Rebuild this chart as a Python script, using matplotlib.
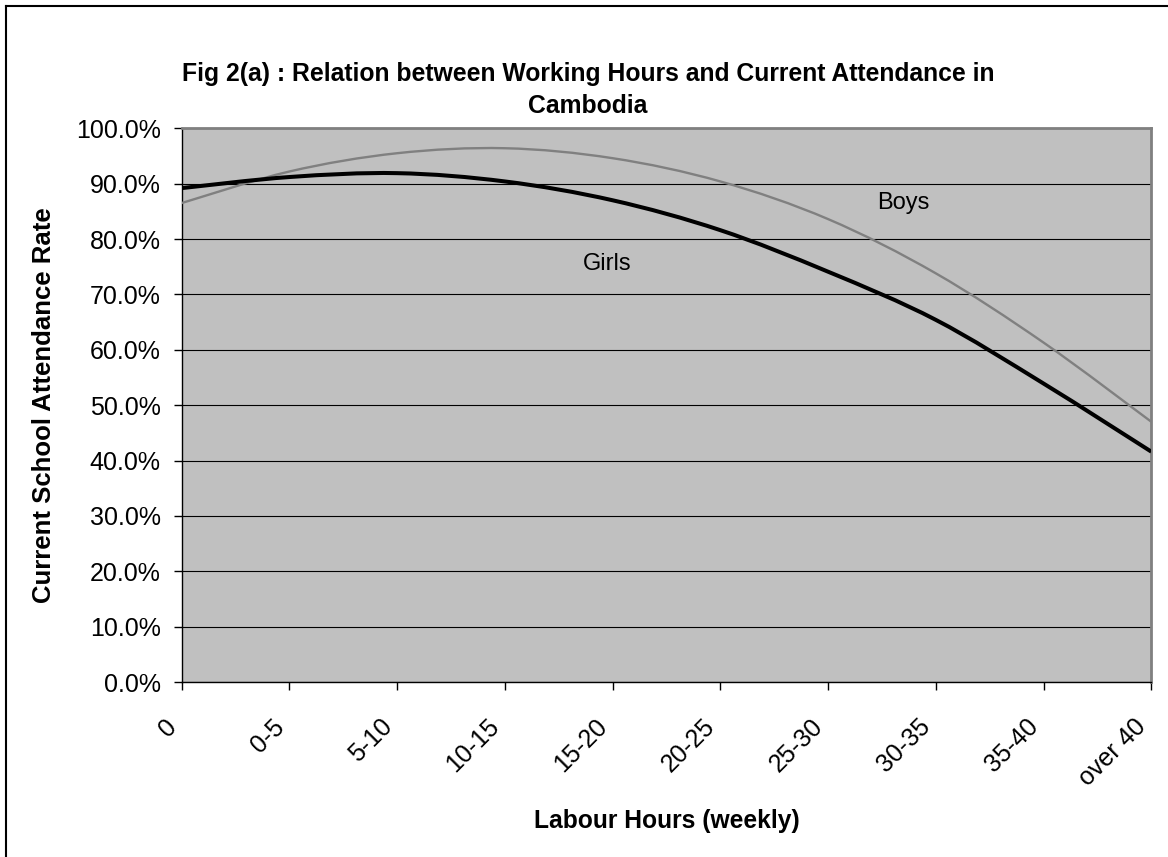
import numpy as np
import matplotlib
matplotlib.use("Agg")
import matplotlib.pyplot as plt
from matplotlib.path import Path
from matplotlib.patches import PathPatch
from matplotlib.transforms import ScaledTranslation
from matplotlib.ticker import PercentFormatter
from matplotlib.lines import Line2D

plt.rcParams['font.family'] = ['Liberation Sans', 'DejaVu Sans']

#%% data (attendance rate, %)
hours = ['0', '0-5', '5-10', '10-15', '15-20', '20-25', '25-30',
         '30-35', '35-40', 'over 40']
boys = [86.5, 92.2, 95.5, 96.4, 94.6, 90.4, 83.6, 73.8, 61.3, 47.0]
girls = [89.2, 91.2, 91.9, 90.4, 87.0, 81.6, 74.1, 65.4, 53.9, 41.6]

#%% smooth curve through the points (catmull-rom -> cubic bezier)
def smoothPath(xs, ys):
    pts = np.column_stack([xs, ys]).astype(float)
    n = len(pts)
    verts = [pts[0]]
    codes = [Path.MOVETO]
    for i in range(n - 1):
        p0 = pts[max(i - 1, 0)]
        p1 = pts[i]
        p2 = pts[i + 1]
        p3 = pts[min(i + 2, n - 1)]
        c1 = p1 + (p2 - p0) / 6.0
        c2 = p2 - (p3 - p1) / 6.0
        verts += [c1, c2, p2]
        codes += [Path.CURVE4] * 3
    return Path(verts, codes)

#%%
fig = plt.figure(figsize=(11.68, 8.57), dpi=100)
ax = fig.add_axes([181.7/1168, 1 - 682/857, (1151.3 - 181.7)/1168,
                   (682 - 128.3)/857])
ax.set_facecolor('#C0C0C0')

x = np.arange(len(hours))
ax.add_patch(PathPatch(smoothPath(x, boys), fill=False, edgecolor='#808080',
                       lw=1.7, capstyle='butt', zorder=3))
ax.add_patch(PathPatch(smoothPath(x, girls), fill=False, edgecolor='black',
                       lw=2.9, capstyle='butt', zorder=4))

ax.set_xlim(0, len(hours) - 1)
ax.set_ylim(0, 100)
ax.set_yticks(np.arange(0, 101, 10))
ax.yaxis.set_major_formatter(PercentFormatter(decimals=1))
ax.yaxis.grid(True, color='black', lw=0.8)
ax.set_axisbelow(True)

ax.set_xticks(x)
ax.set_xticklabels(hours, rotation=45, ha='right', va='center',
                   rotation_mode='anchor')
ax.tick_params(axis='both', direction='out', length=6, width=1,
               labelsize=18, colors='black')
ax.tick_params(axis='y', pad=9)
ax.tick_params(axis='x', pad=23.5)
shift = ScaledTranslation(-9/100, 0, fig.dpi_scale_trans)
for lab in ax.get_xticklabels():
    lab.set_transform(lab.get_transform() + shift)

for side in ['top', 'right']:
    ax.spines[side].set_color('#808080')
    ax.spines[side].set_linewidth(2)
for side in ['left', 'bottom']:
    ax.spines[side].set_color('black')
    ax.spines[side].set_linewidth(1)

ax.text(3.95, 75.5, 'Girls', fontsize=17, ha='center', va='center')
ax.text(6.7, 86.5, 'Boys', fontsize=17, ha='center', va='center')

ax.set_xlabel('Labour Hours (weekly)', fontsize=17.7, fontweight='bold')
ax.xaxis.set_label_coords(0.5, -(809 - 682)/(682 - 128.3))
ax.set_ylabel('Current School Attendance Rate', fontsize=18.5,
              fontweight='bold')
ax.yaxis.set_label_coords(-(181.7 - 56)/(1151.3 - 181.7), 0.5)

fig.text(588/1168, 1 - 90/857,
         'Fig 2(a) : Relation between Working Hours and Current Attendance in\nCambodia',
         ha='center', va='center', fontsize=17.8, fontweight='bold',
         linespacing=1.4)

# chart border (only top and left edges visible in the picture)
fig.add_artist(Line2D([6/1168, 6/1168], [0, 1 - 6/857], color='black',
                      lw=1.5, transform=fig.transFigure))
fig.add_artist(Line2D([6/1168, 1], [1 - 6/857, 1 - 6/857], color='black',
                      lw=1.5, transform=fig.transFigure))

plt.savefig('out.png', dpi=100)
